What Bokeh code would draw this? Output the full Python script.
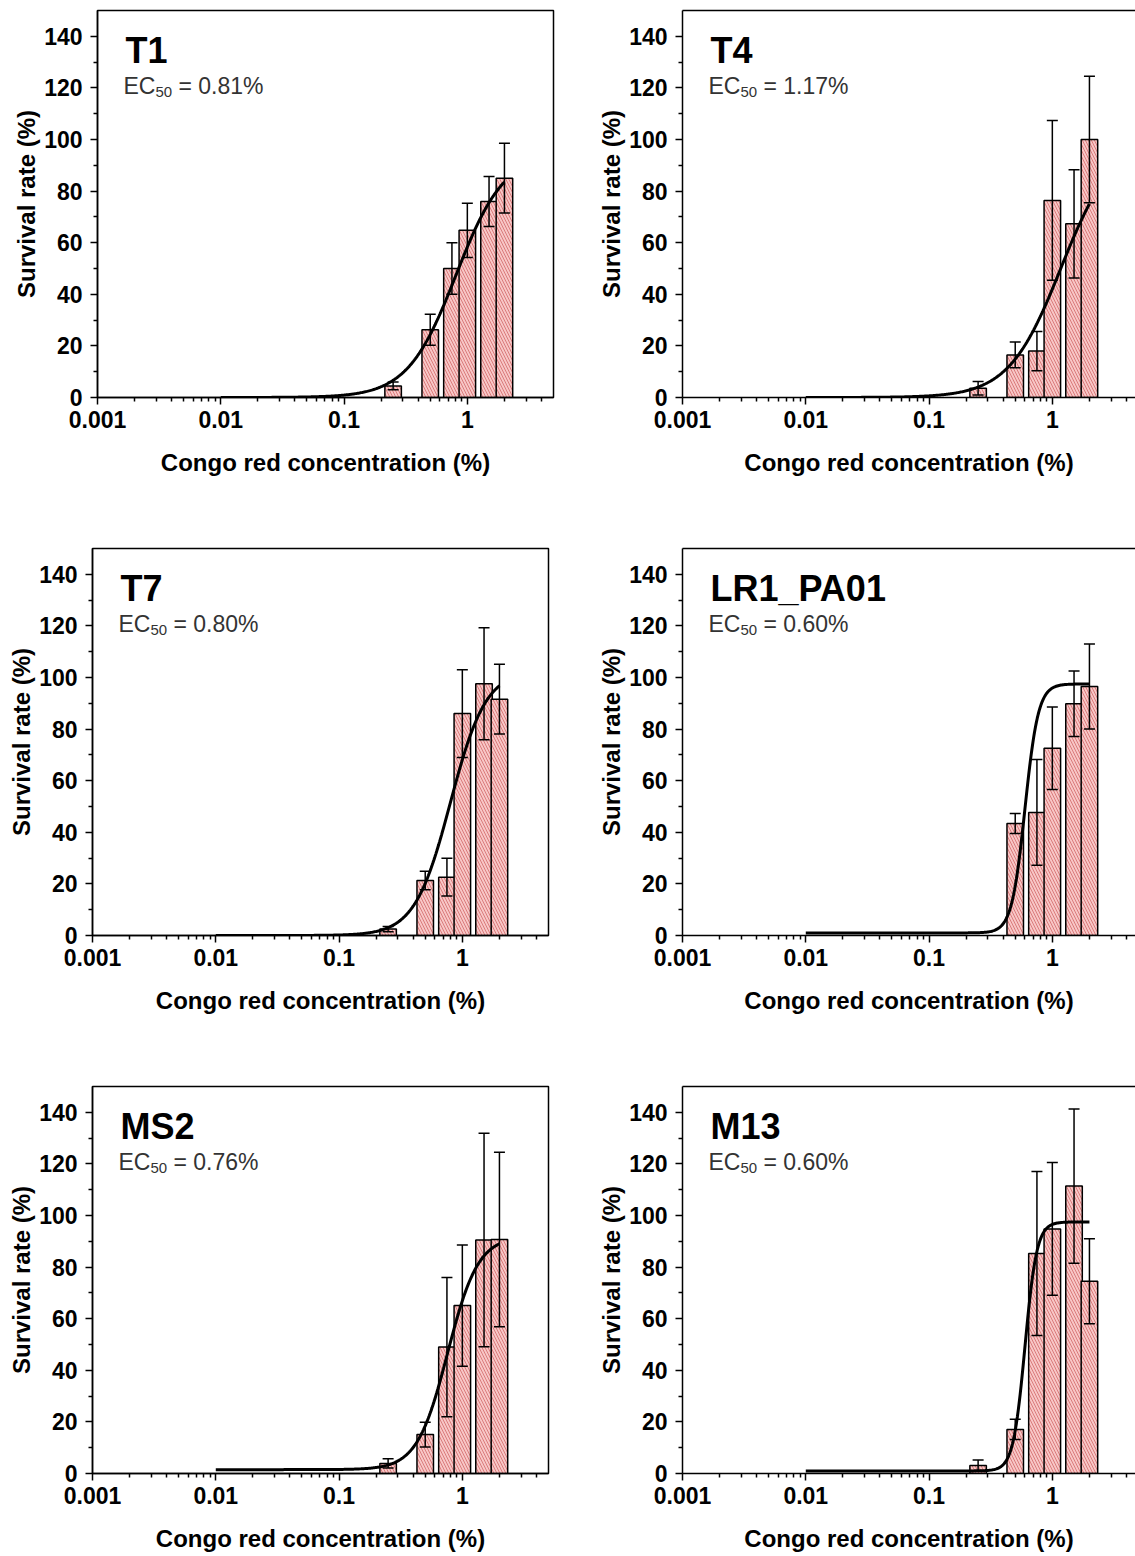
import numpy as np
from bokeh.plotting import figure
from bokeh.models import (ColumnDataSource, Whisker, TeeHead, FixedTicker, Label,
                          LinearAxis, Range1d, CustomJSTickFormatter)
from bokeh.layouts import column, row
from bokeh.embed import file_html
from bokeh.resources import INLINE

# ---------------- data ----------------
panel_names = ["T1", "T4", "T7", "LR1_PA01", "MS2", "M13"]
ec50_labels = ["0.81%", "1.17%", "0.80%", "0.60%", "0.76%", "0.60%"]

conc6 = [0.25, 0.5, 0.75, 1.0, 1.5, 2.0]
conc5 = [0.5, 0.75, 1.0, 1.5, 2.0]

t1_mean = [4.5, 26.3, 50.0, 64.8, 76.0, 85.0]
t1_err = [1.5, 6.0, 10.0, 10.5, 9.7, 13.5]
t4_mean = [3.6, 16.5, 18.0, 76.4, 67.3, 100.0]
t4_err = [2.6, 5.0, 7.6, 31.0, 21.0, 24.5]
t7_mean = [2.5, 21.3, 22.6, 86.0, 97.6, 91.6]
t7_err = [1.0, 3.6, 7.3, 17.0, 21.7, 13.5]
lr1_mean = [43.4, 47.7, 72.6, 89.8, 96.5]
lr1_err = [3.9, 20.5, 16.0, 12.7, 16.5]
ms2_mean = [3.9, 15.1, 49.0, 65.1, 90.5, 90.7]
ms2_err = [1.8, 4.8, 27.0, 23.5, 41.4, 33.8]
m13_mean = [3.1, 17.1, 85.3, 94.8, 111.4, 74.5]
m13_err = [2.1, 3.9, 31.8, 25.7, 29.9, 16.5]

# dose-response fit parameters (bottom, top, EC50, Hill slope)
fit_bottom = [0.0, 0.0, 0.0, 1.0, 1.5, 1.0]
fit_top = [95.0, 100.0, 103.0, 97.5, 92.0, 97.5]
fit_ec50 = [0.81, 1.17, 0.80, 0.60, 0.76, 0.60]
fit_hill = [2.2, 2.05, 3.0, 8.0, 3.5, 9.0]
fit_xmin = 0.01
fit_xmax = 2.0

y_ticks = [0, 20, 40, 60, 80, 100, 120, 140]
y_minor = [10, 30, 50, 70, 90, 110, 130]
x_ticks = [0.001, 0.01, 0.1, 1]

panel_conc = [conc6, conc6, conc6, conc5, conc6, conc6]
panel_mean = [t1_mean, t4_mean, t7_mean, lr1_mean, ms2_mean, m13_mean]
panel_err = [t1_err, t4_err, t7_err, lr1_err, ms2_err, m13_err]

# ---------------- style ----------------
FONT = "Liberation Sans"
BAR_HALF = 10 ** 0.067
FILL = "#f8c6c6"
HATCH = "#d97b7b"


def make_panel(i, width, height, left_border, right_border, top_border, bottom_border,
               xmax, is_right):
    p = figure(width=width, height=height, x_axis_type="log",
               x_range=Range1d(0.001, xmax), y_range=Range1d(0, 150),
               output_backend="svg", toolbar_location=None,
               min_border_left=left_border, min_border_right=right_border,
               min_border_top=top_border, min_border_bottom=bottom_border,
               background_fill_color="white", border_fill_color="white")
    p.grid.visible = False

    conc = panel_conc[i]
    mean = panel_mean[i]
    err = panel_err[i]
    src = ColumnDataSource(dict(
        left=[c / BAR_HALF for c in conc],
        right=[c * BAR_HALF for c in conc],
        x=conc, top=mean,
        upper=[m + e for m, e in zip(mean, err)],
        lower=[m - e for m, e in zip(mean, err)],
    ))
    p.quad(left="left", right="right", bottom=0, top="top", source=src,
           fill_color=FILL, line_color="black", line_width=1.5,
           hatch_pattern="\\", hatch_color=HATCH, hatch_scale=6, hatch_weight=1)

    w = Whisker(base="x", upper="upper", lower="lower", source=src,
                dimension="height", line_color="black", line_width=1.5,
                upper_head=TeeHead(size=11, line_color="black", line_width=1.5),
                lower_head=TeeHead(size=11, line_color="black", line_width=1.5))
    w.level = "annotation"
    p.add_layout(w)

    xs = np.logspace(np.log10(fit_xmin), np.log10(fit_xmax), 300)
    b, t, e50, h = fit_bottom[i], fit_top[i], fit_ec50[i], fit_hill[i]
    ys = b + (t - b) / (1.0 + (e50 / xs) ** h)
    p.line(xs, ys, line_color="black", line_width=3)

    # axes
    xa = p.below[0]
    xmin_ticks = [m * 10.0 ** k for k in range(-3, 1) for m in range(2, 10) if m * 10.0 ** k < xmax]
    xa.ticker = FixedTicker(ticks=x_ticks, minor_ticks=xmin_ticks)
    xa.formatter = CustomJSTickFormatter(code="return tick.toString();")
    xa.axis_label = "Congo red concentration (%)"
    xa.axis_label_standoff = 18
    xa.major_label_standoff = 6
    ya = p.left[0]
    ya.ticker = FixedTicker(ticks=y_ticks, minor_ticks=y_minor)
    ya.axis_label = "Survival rate (%)"
    ya.axis_label_standoff = 1
    ya.major_label_standoff = 8
    for ax in (xa, ya):
        ax.axis_line_color = "black"
        ax.axis_line_width = 1.5
        ax.major_tick_line_color = "black"
        ax.minor_tick_line_color = "black"
        ax.major_tick_line_width = 1.5
        ax.minor_tick_line_width = 1.5
        ax.major_tick_in = 0
        ax.major_tick_out = 7
        ax.minor_tick_in = 0
        ax.minor_tick_out = 4
        ax.major_label_text_font = FONT
        ax.major_label_text_font_style = "bold"
        ax.major_label_text_font_size = "23px"
        ax.major_label_text_color = "black"
        ax.axis_label_text_font = FONT
        ax.axis_label_text_font_style = "bold"
        ax.axis_label_text_font_size = "24px"
        ax.axis_label_text_color = "black"

    if is_right:
        # frame continues past the page edge: draw only top, left and bottom edges
        p.outline_line_color = None
        top_ax = LinearAxis(ticker=FixedTicker(ticks=[]), major_label_text_font_size="0px",
                            major_tick_out=0, major_tick_in=0, minor_tick_out=0,
                            minor_tick_in=0, major_label_standoff=0,
                            axis_line_color="black", axis_line_width=1.5)
        p.add_layout(top_ax, "above")
    else:
        p.outline_line_color = "black"
        p.outline_line_width = 1.5
        p.outline_line_alpha = 1.0

    # panel annotations
    p.add_layout(Label(x=0.001, y=150, x_offset=28, y_offset=-40, text=panel_names[i],
                       text_font=FONT, text_font_style="bold", text_font_size="36px",
                       text_color="black", text_baseline="alphabetic"))
    p.add_layout(Label(x=0.001, y=150, x_offset=26, y_offset=-75, text="EC",
                       text_font=FONT, text_font_size="23px", text_color="#333333",
                       text_baseline="alphabetic"))
    p.add_layout(Label(x=0.001, y=150, x_offset=58, y_offset=-81, text="50",
                       text_font=FONT, text_font_size="15px", text_color="#333333",
                       text_baseline="alphabetic"))
    p.add_layout(Label(x=0.001, y=150, x_offset=81, y_offset=-75, text="= " + ec50_labels[i],
                       text_font=FONT, text_font_size="23px", text_color="#333333",
                       text_baseline="alphabetic"))
    return p


LEFT_W = 593
RIGHT_W = 1135 - LEFT_W
FRAME_W = 456
RIGHT_FRAME_W = RIGHT_W - 89
XMAX_LEFT = 5.0
XMAX_RIGHT = 10 ** (-3 + (np.log10(5.0) + 3) * RIGHT_FRAME_W / FRAME_W)

rows = []
row_heights = [546, 538, 472]
row_tops = [10, 2, 2]
row_bottoms = [149, 149, 83]
left_borders = [97, 92, 92]
for r in range(3):
    lb = left_borders[r]
    pl = make_panel(2 * r, LEFT_W, row_heights[r], lb, LEFT_W - lb - FRAME_W,
                    row_tops[r], row_bottoms[r], XMAX_LEFT, False)
    pr = make_panel(2 * r + 1, RIGHT_W, row_heights[r], 89, 0,
                    row_tops[r], row_bottoms[r], XMAX_RIGHT, True)
    rows.append(row(pl, pr))

layout = column(*rows)
open("out.html", "w").write(file_html(layout, INLINE))
